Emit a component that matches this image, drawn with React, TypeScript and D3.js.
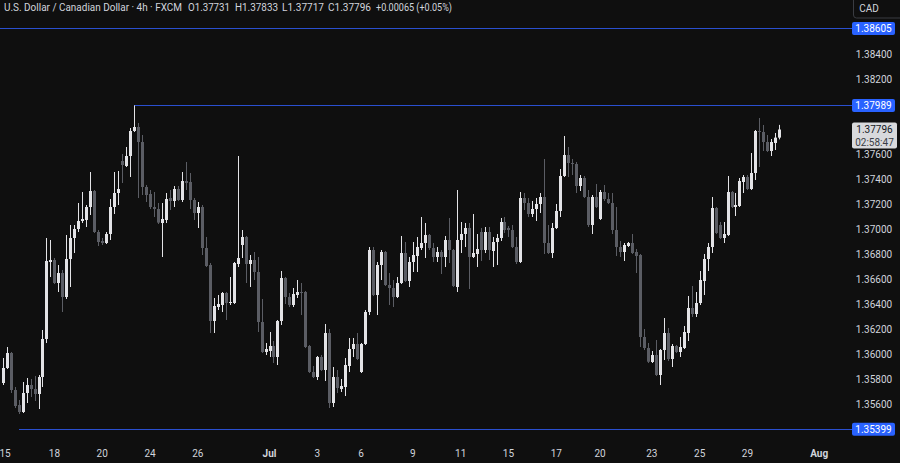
import React from "react";
import * as d3 from "d3";

const opens = [1.35768,1.35888,1.36008,1.35712,1.35592,1.35536,1.35688,1.35752,1.35720,1.35680,1.35816,1.36120,1.36736,1.36752,1.36568,1.36648,1.36456,1.36760,1.36928,1.37000,1.37064,1.37072,1.37176,1.37304,1.36976,1.36904,1.36888,1.36960,1.37176,1.37288,1.37544,1.37504,1.37584,1.37784,1.37816,1.37696,1.37336,1.37280,1.37176,1.37160,1.37048,1.37072,1.37248,1.37224,1.37320,1.37232,1.37384,1.37376,1.37232,1.37128,1.37176,1.36848,1.36712,1.36264,1.36376,1.36392,1.36488,1.36408,1.36408,1.36720,1.36872,1.36936,1.36720,1.36752,1.36656,1.36256,1.36016,1.36024,1.36064,1.35976,1.36264,1.36608,1.36456,1.36392,1.36472,1.36496,1.36496,1.36064,1.35856,1.35816,1.35976,1.35872,1.36168,1.35608,1.35816,1.35720,1.35736,1.35904,1.36040,1.36080,1.35856,1.36080,1.36336,1.36832,1.36472,1.36712,1.36816,1.36552,1.36528,1.36456,1.36568,1.36808,1.36584,1.36736,1.36784,1.36848,1.36888,1.36952,1.36848,1.36776,1.36816,1.36776,1.36912,1.36832,1.36536,1.36912,1.36960,1.37008,1.36776,1.36800,1.36976,1.36832,1.36976,1.36824,1.36896,1.36928,1.37056,1.37008,1.36992,1.36856,1.36736,1.37248,1.37208,1.37120,1.37160,1.37200,1.37256,1.36888,1.36808,1.37008,1.37144,1.37424,1.37592,1.37528,1.37520,1.37344,1.37408,1.37256,1.37032,1.37256,1.37080,1.37296,1.37240,1.37208,1.36992,1.36856,1.36816,1.36864,1.36888,1.36816,1.36792,1.36136,1.36048,1.35936,1.35992,1.35832,1.36032,1.36168,1.35960,1.36064,1.36016,1.36048,1.36168,1.36368,1.36320,1.36408,1.36584,1.36760,1.36856,1.37168,1.37032,1.36928,1.36952,1.37296,1.37176,1.37184,1.37376,1.37416,1.37320,1.37448,1.37784,1.37776,1.37696,1.37624,1.37688,1.37731];
const highs = [1.35968,1.36056,1.36016,1.35736,1.35632,1.35776,1.35808,1.35800,1.35824,1.35832,1.36192,1.36928,1.36912,1.36768,1.36712,1.36672,1.36952,1.37032,1.37032,1.37208,1.37296,1.37192,1.37456,1.37312,1.36992,1.36928,1.36976,1.37240,1.37456,1.37464,1.37600,1.37656,1.37808,1.37989,1.37848,1.37752,1.37352,1.37312,1.37296,1.37208,1.37208,1.37288,1.37312,1.37344,1.37344,1.37456,1.37536,1.37448,1.37248,1.37216,1.37192,1.36936,1.36728,1.36448,1.36472,1.36496,1.36496,1.36616,1.36736,1.37584,1.36992,1.36944,1.36792,1.36816,1.36776,1.36440,1.36088,1.36176,1.36104,1.36272,1.36664,1.36616,1.36488,1.36528,1.36592,1.36568,1.36504,1.36072,1.35904,1.35984,1.35992,1.36240,1.36200,1.35896,1.35872,1.35800,1.35968,1.36128,1.36128,1.36168,1.36088,1.36352,1.36856,1.36856,1.36736,1.36832,1.36824,1.36648,1.36592,1.36616,1.36944,1.36896,1.36776,1.36896,1.36936,1.37096,1.37048,1.36960,1.36888,1.36856,1.36832,1.36944,1.37088,1.36840,1.37312,1.37056,1.37048,1.37048,1.37120,1.36960,1.37008,1.37016,1.37016,1.36936,1.36960,1.37088,1.37096,1.37024,1.37032,1.36936,1.37296,1.37288,1.37248,1.37224,1.37248,1.37288,1.37560,1.37032,1.37048,1.37200,1.37480,1.37744,1.37656,1.37560,1.37536,1.37432,1.37424,1.37312,1.37272,1.37360,1.37312,1.37352,1.37288,1.37288,1.37176,1.36904,1.36888,1.36896,1.36960,1.36840,1.36800,1.36200,1.36088,1.36024,1.36112,1.36040,1.36288,1.36208,1.36080,1.36072,1.36136,1.36224,1.36464,1.36544,1.36496,1.36664,1.36800,1.36888,1.37256,1.37176,1.37056,1.37056,1.37424,1.37304,1.37288,1.37408,1.37432,1.37432,1.37608,1.37792,1.37888,1.37832,1.37752,1.37720,1.37768,1.37833];
const lows = [1.35752,1.35880,1.35688,1.35568,1.35520,1.35528,1.35608,1.35656,1.35624,1.35560,1.35736,1.36088,1.36616,1.36560,1.36496,1.36336,1.36440,1.36536,1.36808,1.36976,1.37048,1.37016,1.37112,1.36968,1.36864,1.36872,1.36880,1.36912,1.37120,1.37192,1.37368,1.37496,1.37416,1.37776,1.37248,1.37272,1.37216,1.37160,1.37096,1.37040,1.36776,1.37048,1.37152,1.37176,1.37224,1.37216,1.37312,1.37160,1.37072,1.37008,1.36792,1.36696,1.36168,1.36168,1.36352,1.36336,1.36272,1.36392,1.36400,1.36696,1.36768,1.36568,1.36536,1.36592,1.36176,1.36008,1.35992,1.35976,1.35928,1.35912,1.36232,1.36400,1.36376,1.36376,1.36448,1.36312,1.36048,1.35848,1.35808,1.35792,1.35864,1.35784,1.35568,1.35576,1.35688,1.35696,1.35664,1.35856,1.35976,1.35952,1.35848,1.36072,1.36312,1.36464,1.36312,1.36592,1.36544,1.36392,1.36376,1.36448,1.36560,1.36576,1.36536,1.36656,1.36656,1.36832,1.36768,1.36832,1.36736,1.36736,1.36640,1.36696,1.36728,1.36536,1.36496,1.36808,1.36856,1.36520,1.36768,1.36696,1.36744,1.36808,1.36752,1.36696,1.36712,1.36904,1.36968,1.36936,1.36848,1.36720,1.36728,1.37152,1.37096,1.37096,1.37064,1.37128,1.36800,1.36800,1.36768,1.37000,1.37096,1.37416,1.37416,1.37432,1.37288,1.37304,1.37248,1.37016,1.36960,1.37168,1.37072,1.37224,1.37200,1.36960,1.36784,1.36776,1.36744,1.36856,1.36800,1.36648,1.36056,1.36032,1.35928,1.35928,1.35824,1.35752,1.35952,1.35944,1.35896,1.36008,1.35976,1.36040,1.36104,1.36296,1.36296,1.36392,1.36472,1.36664,1.36808,1.36960,1.36920,1.36888,1.36944,1.37168,1.37104,1.37176,1.37288,1.37312,1.37312,1.37392,1.37496,1.37624,1.37616,1.37584,1.37632,1.37717];
const closes = [1.35888,1.36008,1.35712,1.35584,1.35536,1.35688,1.35752,1.35720,1.35680,1.35816,1.36120,1.36744,1.36752,1.36568,1.36648,1.36456,1.36760,1.36928,1.37000,1.37064,1.37080,1.37176,1.37304,1.36976,1.36896,1.36888,1.36960,1.37176,1.37288,1.37320,1.37512,1.37584,1.37784,1.37816,1.37696,1.37336,1.37272,1.37176,1.37160,1.37051,1.37080,1.37240,1.37224,1.37320,1.37232,1.37384,1.37368,1.37232,1.37128,1.37176,1.36848,1.36704,1.36264,1.36384,1.36400,1.36488,1.36408,1.36416,1.36728,1.36768,1.36936,1.36720,1.36752,1.36656,1.36256,1.36016,1.36040,1.36064,1.35976,1.36264,1.36608,1.36456,1.36392,1.36480,1.36496,1.36488,1.36056,1.35856,1.35816,1.35976,1.35872,1.36168,1.35608,1.35816,1.35728,1.35744,1.35912,1.36040,1.36080,1.35960,1.36080,1.36336,1.36832,1.36472,1.36712,1.36816,1.36552,1.36528,1.36456,1.36568,1.36808,1.36584,1.36736,1.36792,1.36856,1.36888,1.36952,1.36848,1.36776,1.36816,1.36776,1.36912,1.36832,1.36544,1.36912,1.36960,1.37008,1.36776,1.36808,1.36840,1.36832,1.36976,1.36832,1.36896,1.36928,1.37056,1.36992,1.36992,1.36856,1.36736,1.37248,1.37208,1.37120,1.37160,1.37200,1.37256,1.36888,1.36808,1.37008,1.37144,1.37424,1.37592,1.37528,1.37520,1.37344,1.37408,1.37256,1.37032,1.37256,1.37176,1.37296,1.37240,1.37208,1.36992,1.36856,1.36816,1.36872,1.36888,1.36808,1.36784,1.36136,1.36048,1.35938,1.35992,1.35832,1.36032,1.36168,1.35960,1.36064,1.36016,1.36056,1.36176,1.36368,1.36320,1.36408,1.36592,1.36760,1.36856,1.37168,1.36968,1.36928,1.36960,1.37296,1.37176,1.37192,1.37384,1.37416,1.37320,1.37448,1.37784,1.37776,1.37696,1.37624,1.37696,1.37731,1.37796];

const dateTickIdx = [0, 13, 25, 37, 49, 67, 79, 90, 103, 115, 127, 139, 150, 163, 175, 187, 205];
const dateTickLabels = ["15", "18", "20", "24", "26", "Jul", "3", "6", "9", "11", "15", "17", "20", "23", "25", "29", "Aug"];
const monthLabels = ["Jul", "Aug"];

const priceTicks = [1.384, 1.382, 1.376, 1.374, 1.372, 1.370, 1.368, 1.366, 1.364, 1.362, 1.360, 1.358, 1.356];
const levelPrices = [1.38605, 1.37989, 1.35399];
const levelStartIdx = [-1, 33, 4];

const lastPrice = 1.37796;
const countdown = "02:58:47";
const title = "U.S. Dollar / Canadian Dollar · 4h · FXCM";
const ohlcLabels = ["O1.37731", "H1.37833", "L1.37717", "C1.37796", "+0.00065 (+0.05%)"];

const W = 900;
const H = 463;
const FONT = "Roboto, 'Noto Sans', sans-serif";
const UP = "#e3e3e6";
const DOWN = "#5b5d64";
const BLUE = "#2962ff";
const LINE_BLUE = "#2a4fcf";
const TEXT = "#d1d4dc";

export default function App() {
  const n = opens.length;
  const x = d3.scaleLinear().domain([0, n - 1]).range([2.67, 779.3]);
  const y = d3.scaleLinear().domain([1.3532, 1.39]).range([439, -21]);
  const fmt = d3.format(".5f");
  const ohlcX = [188, 235, 282, 328, 376];
  const ohlcW = [42, 43, 42, 43, 76];

  return (
    <svg width={W} height={H} style={{ position: "absolute", left: 0, top: 0, background: "#0f0f0f" }} fontFamily={FONT}>
      <rect x={0} y={0} width={W} height={H} fill="#0f0f0f" />
      {/* level lines */}
      {levelPrices.map((p, i) => {
        const yy = Math.round(y(p)) + 0.5;
        const x0 = levelStartIdx[i] < 0 ? 0 : Math.round(x(levelStartIdx[i]));
        return <line key={"lv" + i} x1={x0} x2={852} y1={yy} y2={yy} stroke={LINE_BLUE} strokeWidth={1} />;
      })}
      {/* candles */}
      {opens.map((o, i) => {
        const c = closes[i];
        const up = c >= o;
        const col = up ? UP : DOWN;
        const xc = Math.round(x(i));
        const yTop = y(Math.max(o, c));
        const yBot = y(Math.min(o, c));
        const bh = Math.max(1, yBot - yTop);
        return (
          <g key={"c" + i}>
            <line x1={xc + 0.5} x2={xc + 0.5} y1={y(highs[i])} y2={y(lows[i])} stroke={col} strokeWidth={1} />
            <rect x={xc - 1} y={yTop} width={3} height={bh} fill={col} />
          </g>
        );
      })}
      {/* header */}
      <text x={4} y={11} fontSize={10.3} fill={TEXT} textLength={178} lengthAdjust="spacingAndGlyphs">{title}</text>
      {ohlcLabels.map((t, i) => (
        <text key={"h" + i} x={ohlcX[i]} y={11} fontSize={10.3} fill={TEXT} textLength={ohlcW[i]} lengthAdjust="spacingAndGlyphs">{t}</text>
      ))}
      {/* price axis ticks */}
      {priceTicks.map((p) => (
        <text key={"pt" + p} x={874} y={y(p) + 3.5} fontSize={10} fill={TEXT} textAnchor="middle">{fmt(p)}</text>
      ))}
      {/* level labels */}
      {levelPrices.map((p, i) => (
        <g key={"ll" + i}>
          <rect x={852} y={y(p) - 6.5} width={43} height={13} rx={2} fill={BLUE} />
          <text x={873.5} y={y(p) + 3.5} fontSize={10} fill="#ffffff" textAnchor="middle">{fmt(p)}</text>
        </g>
      ))}
      {/* last price label */}
      <g>
        <rect x={852} y={y(lastPrice) - 7} width={45} height={26} rx={2} fill="#d8d9dc" />
        <text x={874.5} y={y(lastPrice) + 3.5} fontSize={10} fill="#131722" textAnchor="middle">{fmt(lastPrice)}</text>
        <text x={874.5} y={y(lastPrice) + 16} fontSize={10} fill="#3a3d45" textAnchor="middle">{countdown}</text>
      </g>
      {/* currency box */}
      <rect x={853.5} y={-3} width={52} height={21} rx={3} fill="none" stroke="#3a3c42" />
      <text x={869} y={12} fontSize={10} fill={TEXT} textAnchor="middle">CAD</text>
      {/* time axis */}
      {dateTickIdx.map((d, i) => (
        <text key={"dt" + i} x={Math.max(x(d), 5)} y={457} fontSize={10} fill={TEXT} textAnchor="middle"
          fontWeight={monthLabels.includes(dateTickLabels[i]) ? 700 : 400}>{dateTickLabels[i]}</text>
      ))}
    </svg>
  );
}
